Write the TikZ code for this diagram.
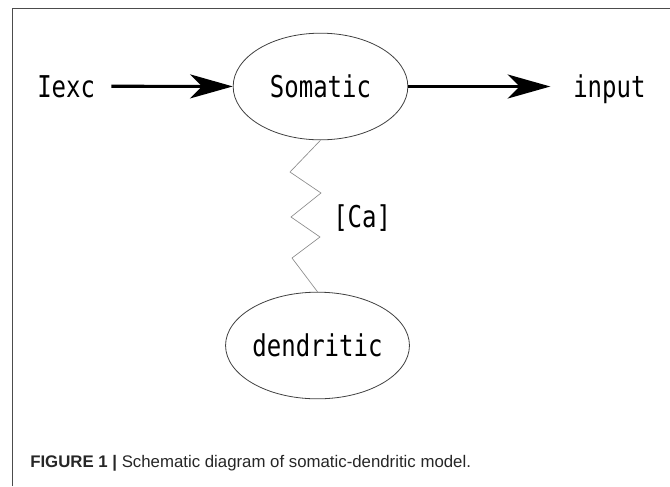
\documentclass[tikz,border=0pt]{standalone}
\usepackage{fontspec}
\setmainfont{Liberation Sans}
\newfontfamily\diagfont[FakeStretch=0.8]{DejaVu Sans Mono}
\usetikzlibrary{shapes.geometric}
\usetikzlibrary{arrows.meta}

\tikzset{
	cell/.style={draw=black!75, line width=0.6pt, ellipse, minimum width=131pt, minimum height=80pt, inner sep=0pt, font=\diagfont\fontsize{22.5}{27}\selectfont},
	lbl/.style={inner sep=0pt, font=\diagfont\fontsize{22.5}{27}\selectfont},
	flow/.style={line width=2.4pt, -{Stealth[length=32pt, width=18pt, inset=9pt]}},
	spring/.style={draw=black!45, line width=0.5pt},
}

\begin{document}
\begin{tikzpicture}[x=0.75pt, y=-0.75pt]
		\useasboundingbox (0, 0) rectangle (670, 486);
		\draw [black!70, line width=1pt] (12.7, 486) -- (12.7, 8.3) -- (670, 8.3); % Ramen
		
		\node [cell] (soma) at (320.5, 86.5) {Somatic};
		\node [cell] (dend) at (317.5, 345.5) {dendritic};
		\node [lbl, anchor=base west] (lexc) at (37, 97) {Iexc};
		\node [lbl, anchor=base west] (input) at (573, 97) {input};
		\node [lbl, anchor=base west] (ca) at (333, 227) {[Ca]};
		
		\draw [flow, shorten <=12pt] (lexc) -- (soma); % Pilarna
		\draw [flow] (soma) -- ([xshift=-17pt]soma -| input.west);
		\draw [spring] (soma.south) -- (290, 172) -- (321, 193) -- (291, 217) -- (320, 237) -- (292, 258) -- (dend.north); % Fjädern
		
		\node [anchor=base west, inner sep=0pt, text=black!85, font=\fontsize{12.6}{15}\selectfont] (caption) at (30, 467) {\textbf{FIGURE 1 |} Schematic diagram of somatic-dendritic model.};
	\end{tikzpicture}
\end{document}
